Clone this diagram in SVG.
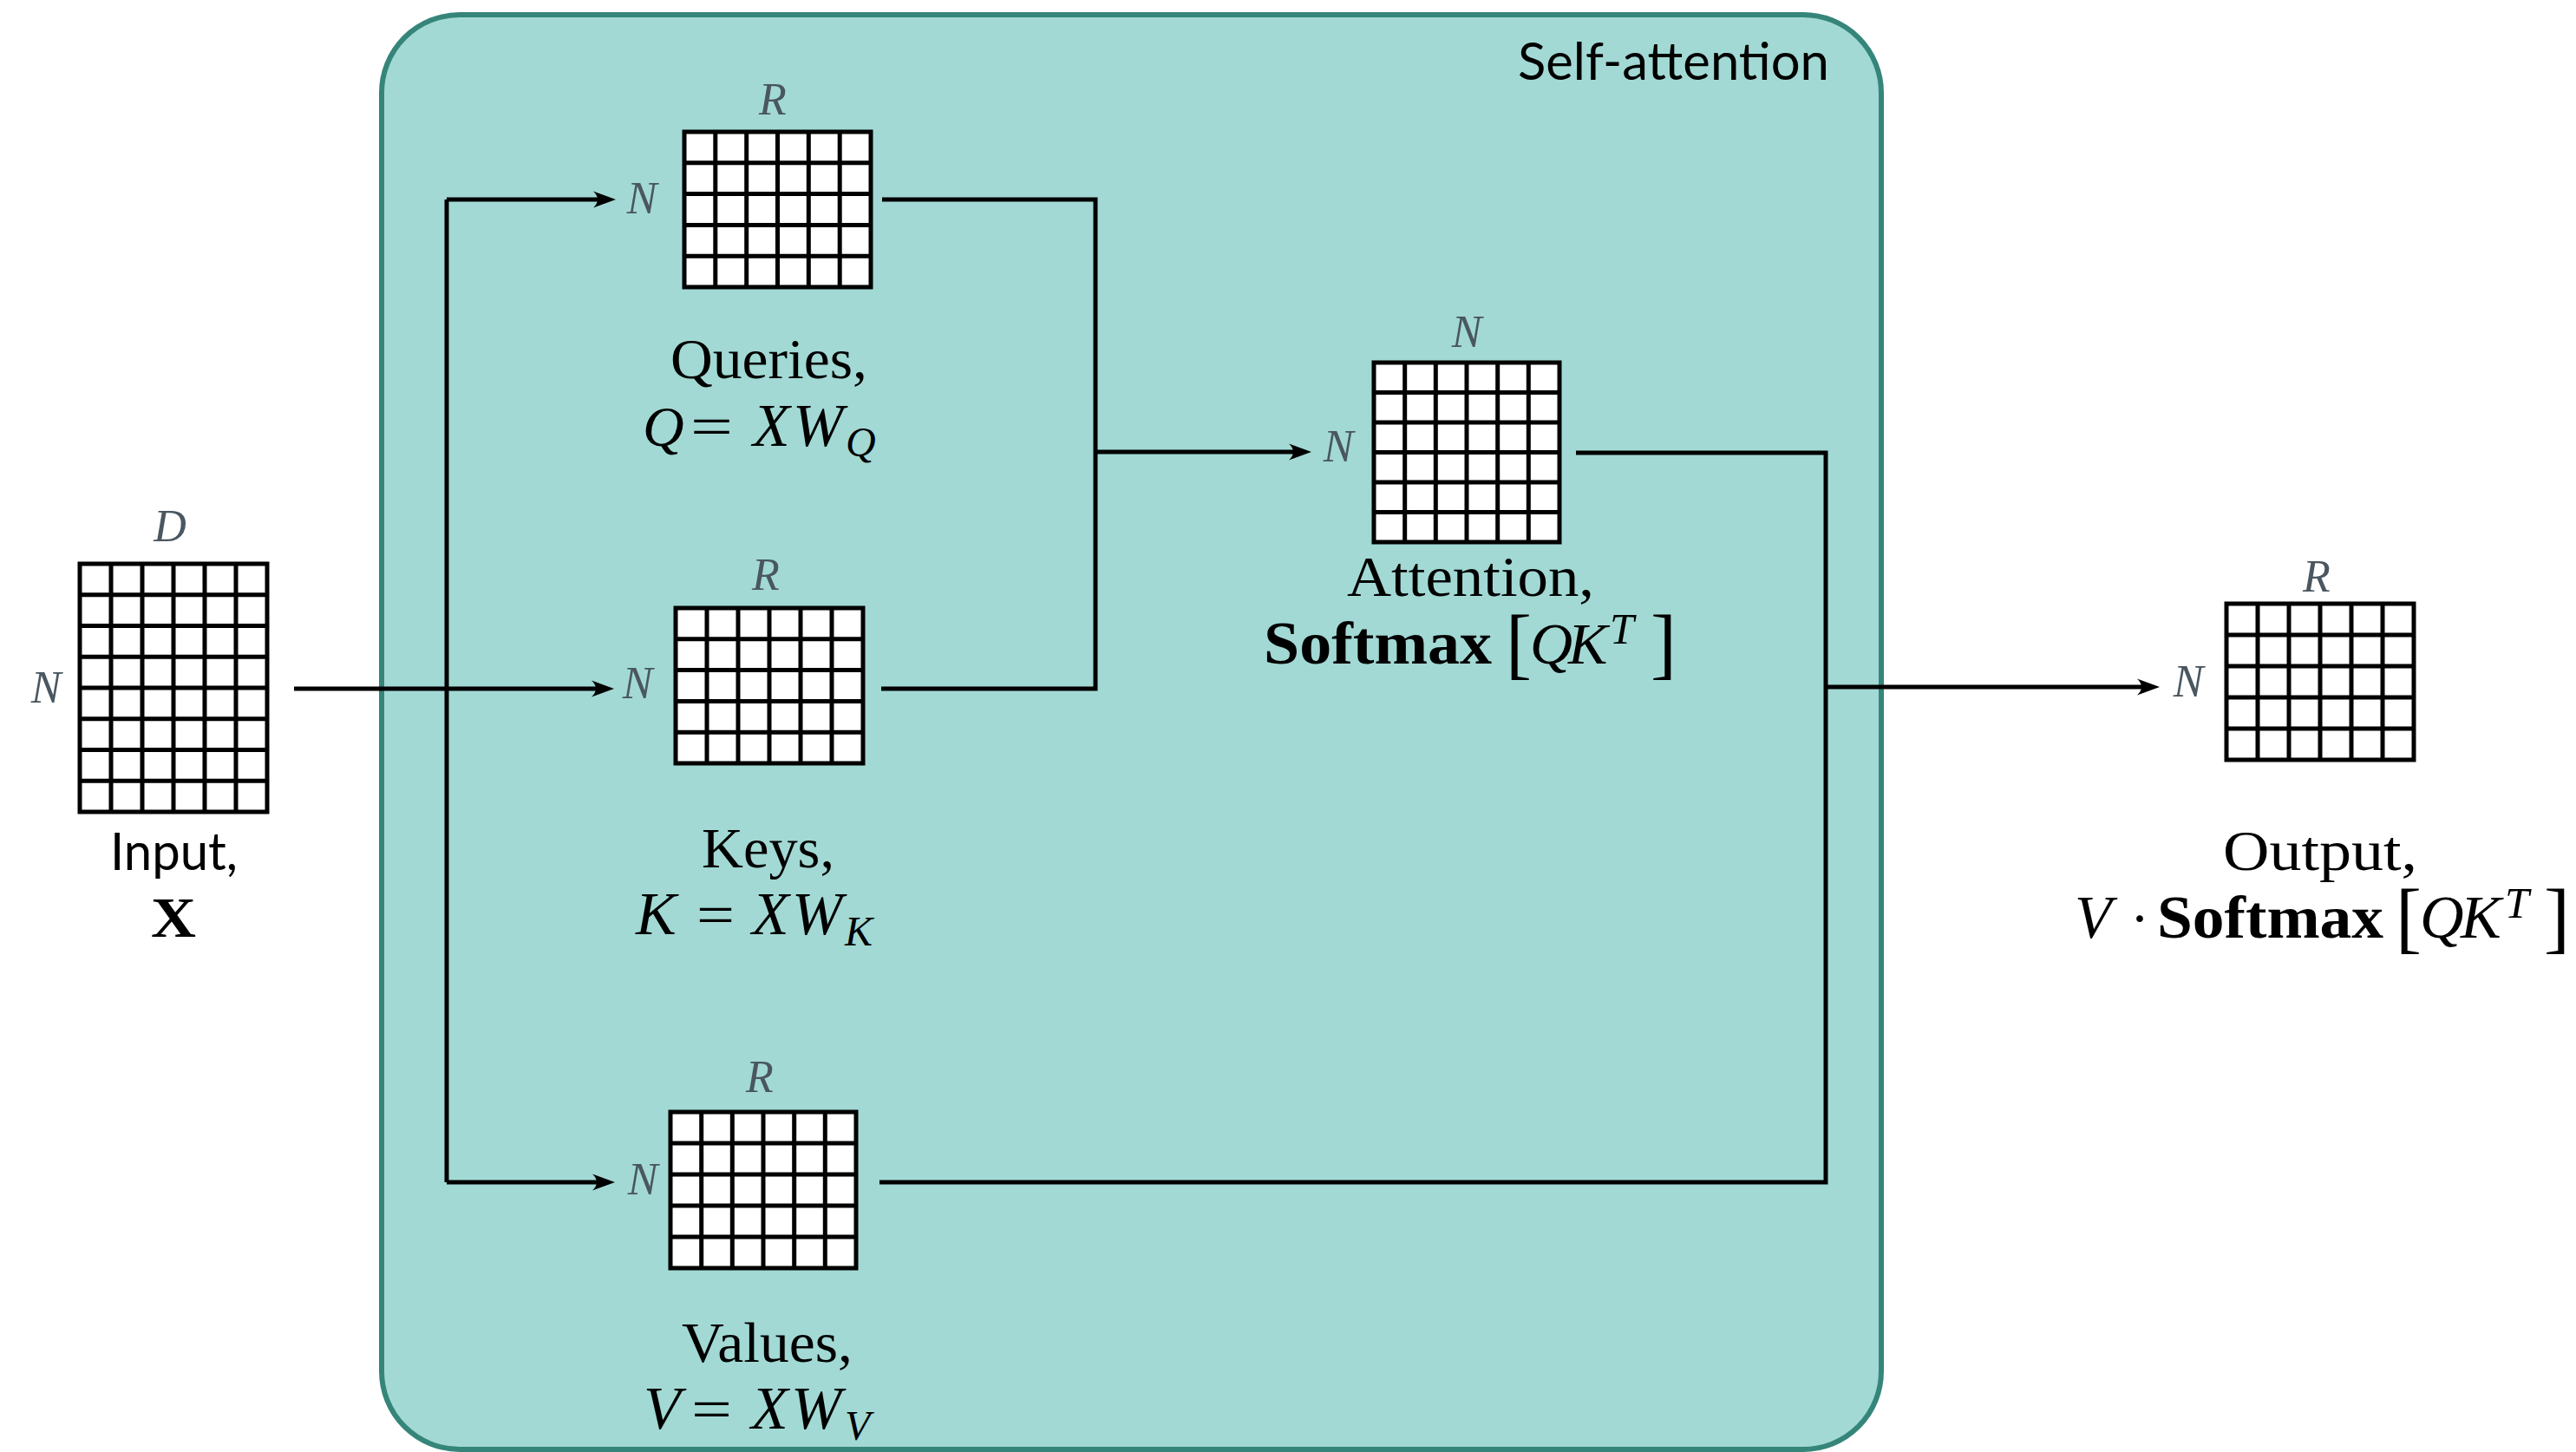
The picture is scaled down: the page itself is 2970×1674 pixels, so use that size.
<svg xmlns="http://www.w3.org/2000/svg" width="2970" height="1674" viewBox="0 0 2970 1674">
<style>
.grid rect{fill:#ffffff;stroke:#000;stroke-width:5}
.grid path{fill:none;stroke:#000;stroke-width:5}
.conn{fill:none;stroke:#000;stroke-width:5}
.dim{font-family:"Liberation Serif",serif;font-style:italic;font-size:52px;fill:#4a5760;text-anchor:middle}
.lbl{font-family:"Liberation Serif",serif;font-size:66px;fill:#000}
.it{font-style:italic}
.bf{font-weight:bold}
.sans{font-family:Lato,"Open Sans",sans-serif;font-size:60px;fill:#000}
</style>
<defs>
<marker id="ah" markerUnits="userSpaceOnUse" markerWidth="40" markerHeight="30" viewBox="-30 -15 40 30" refX="-8" refY="0" orient="auto">
<path d="M0,0 L-26,-9.5 Q-16,0 -26,9.5 Z" fill="#000"/>
</marker>
</defs>
<rect width="2970" height="1674" fill="#ffffff"/>
<g id="self-attention-box">
<rect x="440" y="17" width="1729" height="1654" rx="90" ry="90" fill="#a2d9d4" stroke="#35857a" stroke-width="6"/>
<text class="sans" x="2109" y="92" text-anchor="end" textLength="359" lengthAdjust="spacingAndGlyphs" font-size="62">Self-attention</text>
</g>
<g id="connectors">
<path class="conn" d="M515,230 V1363"/>
<path class="conn" d="M515,230 H702" marker-end="url(#ah)"/>
<path class="conn" d="M339,794 H700" marker-end="url(#ah)"/>
<path class="conn" d="M515,1363 H701" marker-end="url(#ah)"/>
<path class="conn" d="M1017,230 H1263 V794 H1016"/>
<path class="conn" d="M1263,521 H1504" marker-end="url(#ah)"/>
<path class="conn" d="M1817,522 H2105 V1363 H1014"/>
<path class="conn" d="M2105,792 H2482" marker-end="url(#ah)"/>
</g>
<g id="input">
<g class="grid">
<rect x="92" y="650" width="216" height="286"/>
<path d="M128,650V936M164,650V936M200,650V936M236,650V936M272,650V936M92,685.75H308M92,721.5H308M92,757.25H308M92,793H308M92,828.75H308M92,864.5H308M92,900.25H308"/>
</g>
<text class="dim" x="196" y="624">D</text>
<text class="dim" x="53" y="810">N</text>
<text class="sans" x="127" y="1003" textLength="147" lengthAdjust="spacingAndGlyphs">Input,</text>
<text class="lbl bf" x="200" y="1080" text-anchor="middle" textLength="52" lengthAdjust="spacingAndGlyphs">X</text>
</g>
<g id="queries">
<g class="grid">
<rect x="789" y="152" width="215" height="179"/>
<path d="M824.8,152V331M860.7,152V331M896.5,152V331M932.3,152V331M968.2,152V331M789,187.8H1004M789,223.6H1004M789,259.4H1004M789,295.2H1004"/>
</g>
<text class="dim" x="891" y="132">R</text>
<text class="dim" x="740" y="246">N</text>
<text class="lbl" x="773" y="436" textLength="227" lengthAdjust="spacingAndGlyphs">Queries,</text>
<text class="lbl"><tspan class="it" x="741" y="514">Q</tspan><tspan x="796" y="514" textLength="49" lengthAdjust="spacingAndGlyphs">=</tspan><tspan class="it" x="868" y="514" font-size="70">X</tspan><tspan class="it" x="914" y="514" font-size="70">W</tspan><tspan class="it" x="975" y="526" font-size="48">Q</tspan></text>
</g>
<g id="keys">
<g class="grid">
<rect x="779" y="701" width="216" height="179"/>
<path d="M815,701V880M851,701V880M887,701V880M923,701V880M959,701V880M779,736.8H995M779,772.6H995M779,808.4H995M779,844.2H995"/>
</g>
<text class="dim" x="883" y="680">R</text>
<text class="dim" x="735" y="805">N</text>
<text class="lbl" x="809" y="1000" textLength="153" lengthAdjust="spacingAndGlyphs">Keys,</text>
<text class="lbl"><tspan class="it" x="733" y="1077" font-size="70">K</tspan><tspan x="803" y="1077" textLength="44" lengthAdjust="spacingAndGlyphs">=</tspan><tspan class="it" x="867" y="1077" font-size="70">X</tspan><tspan class="it" x="913" y="1077" font-size="70">W</tspan><tspan class="it" x="974" y="1090" font-size="48">K</tspan></text>
</g>
<g id="values">
<g class="grid">
<rect x="773" y="1282" width="214" height="180"/>
<path d="M808.7,1282V1462M844.3,1282V1462M880,1282V1462M915.7,1282V1462M951.3,1282V1462M773,1318H987M773,1354H987M773,1390H987M773,1426H987"/>
</g>
<text class="dim" x="876" y="1259">R</text>
<text class="dim" x="741" y="1377">N</text>
<text class="lbl" x="786" y="1570" textLength="197" lengthAdjust="spacingAndGlyphs">Values,</text>
<text class="lbl"><tspan class="it" x="742" y="1647" font-size="70">V</tspan><tspan x="797" y="1647" textLength="47" lengthAdjust="spacingAndGlyphs">=</tspan><tspan class="it" x="866" y="1647" font-size="70">X</tspan><tspan class="it" x="912" y="1647" font-size="70">W</tspan><tspan class="it" x="974" y="1660" font-size="48">V</tspan></text>
</g>
<g id="attention">
<g class="grid">
<rect x="1584" y="418" width="214" height="207"/>
<path d="M1619.7,418V625M1655.3,418V625M1691,418V625M1726.7,418V625M1762.3,418V625M1584,452.5H1798M1584,487H1798M1584,521.5H1798M1584,556H1798M1584,590.5H1798"/>
</g>
<text class="dim" x="1691" y="400">N</text>
<text class="dim" x="1543" y="532">N</text>
<text class="lbl" x="1553" y="687" textLength="285" lengthAdjust="spacingAndGlyphs">Attention,</text>
<text class="lbl"><tspan class="bf" x="1457" y="765" font-size="70" textLength="263" lengthAdjust="spacingAndGlyphs">Softmax</tspan><tspan x="1736" y="772" font-size="90">[</tspan><tspan class="it" x="1764" y="765" font-size="68">Q</tspan><tspan class="it" x="1808" y="765" font-size="68">K</tspan><tspan class="it" x="1856" y="742" font-size="50">T</tspan><tspan x="1903" y="772" font-size="90">]</tspan></text>
</g>
<g id="output">
<g class="grid">
<rect x="2567" y="696" width="216" height="180"/>
<path d="M2603,696V876M2639,696V876M2675,696V876M2711,696V876M2747,696V876M2567,732H2783M2567,768H2783M2567,804H2783M2567,840H2783"/>
</g>
<text class="dim" x="2671" y="682">R</text>
<text class="dim" x="2523" y="803">N</text>
<text class="lbl" x="2563" y="1003" textLength="224" lengthAdjust="spacingAndGlyphs">Output,</text>
<text class="lbl"><tspan class="it" x="2392" y="1081" font-size="70">V</tspan><tspan x="2456" y="1081">·</tspan><tspan class="bf" x="2487" y="1081" font-size="70" textLength="261" lengthAdjust="spacingAndGlyphs">Softmax</tspan><tspan x="2762" y="1088" font-size="90">[</tspan><tspan class="it" x="2790" y="1081" font-size="70">Q</tspan><tspan class="it" x="2837" y="1081" font-size="70">K</tspan><tspan class="it" x="2888" y="1058" font-size="50">T</tspan><tspan x="2933" y="1088" font-size="90">]</tspan></text>
</g>
</svg>
